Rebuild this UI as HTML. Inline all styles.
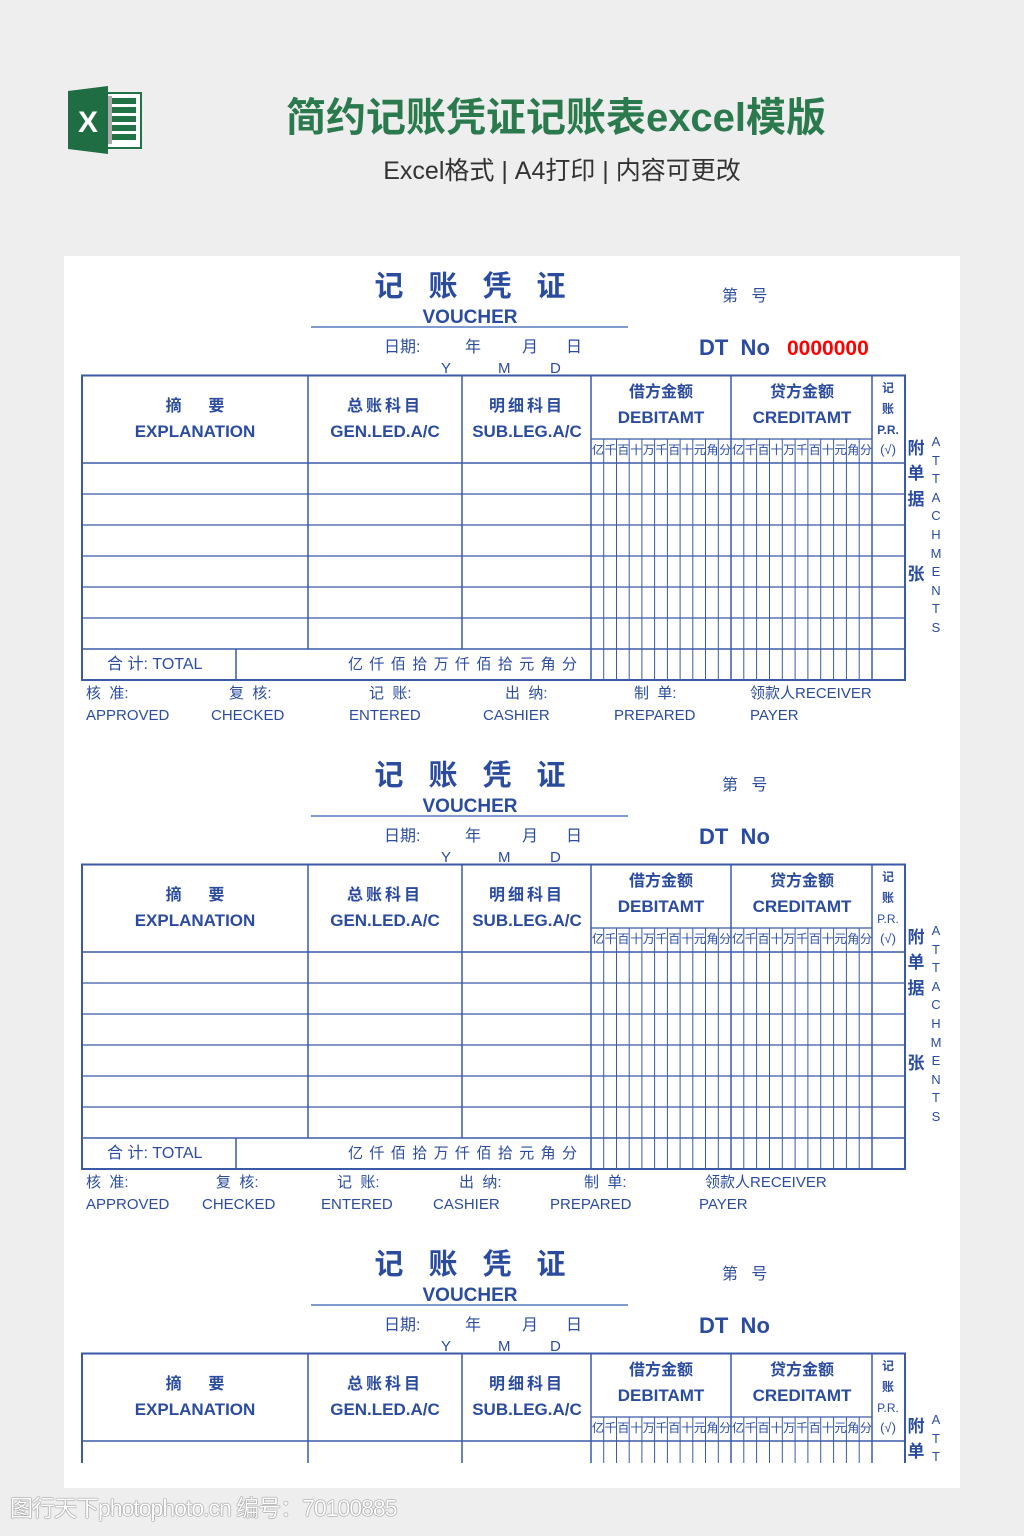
<!DOCTYPE html>
<html><head><meta charset="utf-8">
<style>
*{margin:0;padding:0;box-sizing:border-box}
html,body{width:1024px;height:1536px;overflow:hidden}
body{background:#eeeeee;position:relative;font-family:"Liberation Sans","Noto Sans CJK SC",sans-serif}
.t{position:absolute;white-space:nowrap;color:#2b4c9e;line-height:1;font-family:"Liberation Sans","Noto Sans CJK SC",sans-serif}
.c{transform:translateX(-50%)}
.b{font-weight:bold}
.v{position:absolute;left:0;width:1024px;overflow:hidden}
.dg{position:absolute;display:flex;font-size:12px;color:#2b4c9e;line-height:1;font-family:"Liberation Sans","Noto Sans CJK SC",sans-serif}
.dg span{flex:1;text-align:center;letter-spacing:-1px}
.ttl{font-size:29px;letter-spacing:25px;padding-left:25px}
</style></head><body>

<svg style="position:absolute;left:0;top:0" width="200" height="200">
<rect x="106" y="93" width="35" height="55" fill="#fff" stroke="#217346" stroke-width="2"/>
<g fill="#217346"><rect x="112" y="98" width="24" height="6"/><rect x="112" y="107" width="24" height="6"/><rect x="112" y="116" width="24" height="6"/><rect x="112" y="125" width="24" height="6"/><rect x="112" y="134" width="24" height="6"/></g>
<rect x="106" y="96" width="6" height="48" fill="#aaa"/>
<polygon points="68,91 108,86 108,154 68,149" fill="#1f6e43"/>
<text x="88" y="132" fill="#fff" font-family="Liberation Sans" font-weight="bold" font-size="30" text-anchor="middle">X</text>
</svg>

<div class="t b c" style="left:556px;top:98px;font-size:40px;color:#2a7a4e">简约记账凭证记账表excel模版</div>
<div class="t c" style="left:562px;top:159px;font-size:25px;color:#333">Excel格式 | A4打印 | 内容可更改</div>

<div style="position:absolute;left:64px;top:256px;width:896px;height:1232px;background:#fff"></div>

<!-- VOUCHER 1 -->
<div class="v" style="top:0;height:740px">
<svg style="position:absolute;left:0;top:0" width="1024" height="740">
<g stroke="#3a5aa8" fill="none">
<line x1="311" y1="327" x2="628" y2="327" stroke="#7f9bd0" stroke-width="2"/>
<rect x="82" y="375.5" width="823" height="304.5" stroke-width="2"/>
<line x1="308" y1="375" x2="308" y2="649" stroke-width="1.5"/>
<line x1="462" y1="375" x2="462" y2="649" stroke-width="1.5"/>
<line x1="591" y1="375" x2="591" y2="680" stroke-width="1.5"/>
<line x1="731" y1="375" x2="731" y2="680" stroke-width="1.5"/>
<line x1="872" y1="375" x2="872" y2="680" stroke-width="1.5"/>
<line x1="591" y1="439" x2="872" y2="439" stroke-width="1.2"/>
<line x1="82" y1="463" x2="905" y2="463" stroke-width="1.5"/>
<line x1="82" y1="494" x2="905" y2="494" stroke-width="1.2"/>
<line x1="82" y1="525" x2="905" y2="525" stroke-width="1.2"/>
<line x1="82" y1="556" x2="905" y2="556" stroke-width="1.2"/>
<line x1="82" y1="587" x2="905" y2="587" stroke-width="1.2"/>
<line x1="82" y1="618" x2="905" y2="618" stroke-width="1.2"/>
<line x1="82" y1="649" x2="905" y2="649" stroke-width="1.5"/>
<line x1="236" y1="649" x2="236" y2="680" stroke-width="1.5"/>
<path stroke-width="1" d="M603.7 439V680M616.5 439V680M629.2 439V680M641.9 439V680M654.6 439V680M667.4 439V680M680.1 439V680M692.8 439V680M705.5 439V680M718.3 439V680M743.8 439V680M756.6 439V680M769.5 439V680M782.3 439V680M795.1 439V680M807.9 439V680M820.7 439V680M833.6 439V680M846.4 439V680M859.2 439V680"/>
</g></svg>
<div class="t b c ttl" style="left:470px;top:273px">记账凭证</div>
<div class="t b c" style="left:470px;top:308px;font-size:19px">VOUCHER</div>
<div class="t" style="left:722px;top:289px;font-size:16px">第&nbsp;&nbsp;&nbsp;号</div>
<div class="t" style="left:384px;top:340px;font-size:16px">日期:</div>
<div class="t" style="left:465px;top:340px;font-size:16px">年</div>
<div class="t" style="left:522px;top:340px;font-size:16px">月</div>
<div class="t" style="left:566px;top:340px;font-size:16px">日</div>
<div class="t" style="left:441px;top:361px;font-size:15px">Y</div>
<div class="t" style="left:498px;top:361px;font-size:15px">M</div>
<div class="t" style="left:550px;top:361px;font-size:15px">D</div>
<div class="t b" style="left:699px;top:337px;font-size:22px">DT&nbsp;&nbsp;No</div>
<div class="t b" style="left:787px;top:338px;font-size:21px;color:#f00">0000000</div>
<div class="t b c" style="left:195px;top:399px;font-size:16px">摘&nbsp;&nbsp;&nbsp;&nbsp;&nbsp;&nbsp;要</div>
<div class="t b c" style="left:195px;top:423px;font-size:17px">EXPLANATION</div>
<div class="t b c" style="left:385px;top:399px;font-size:16px;letter-spacing:3px">总账科目</div>
<div class="t b c" style="left:385px;top:423px;font-size:17px">GEN.LED.A/C</div>
<div class="t b c" style="left:527px;top:399px;font-size:16px;letter-spacing:3px">明细科目</div>
<div class="t b c" style="left:527px;top:423px;font-size:17px">SUB.LEG.A/C</div>
<div class="t b c" style="left:661px;top:385px;font-size:16px">借方金额</div>
<div class="t b c" style="left:661px;top:409px;font-size:17px">DEBITAMT</div>
<div class="t b c" style="left:802px;top:385px;font-size:16px">贷方金额</div>
<div class="t b c" style="left:802px;top:409px;font-size:17px">CREDITAMT</div>
<div class="t b c" style="left:888px;top:382px;font-size:12px">记</div>
<div class="t b c" style="left:888px;top:403px;font-size:12px">账</div>
<div class="t b c" style="left:888px;top:424px;font-size:12px">P.R.</div>
<div class="t c" style="left:888px;top:443px;font-size:13px">(√)</div>
<div class="dg" style="left:591px;top:444px;width:140px"><span>亿</span><span>千</span><span>百</span><span>十</span><span>万</span><span>千</span><span>百</span><span>十</span><span>元</span><span>角</span><span>分</span></div>
<div class="dg" style="left:731px;top:444px;width:141px"><span>亿</span><span>千</span><span>百</span><span>十</span><span>万</span><span>千</span><span>百</span><span>十</span><span>元</span><span>角</span><span>分</span></div>
<div class="t b c" style="left:916px;top:440px;font-size:17px">附</div>
<div class="t b c" style="left:916px;top:465px;font-size:17px">单</div>
<div class="t b c" style="left:916px;top:491px;font-size:17px">据</div>
<div class="t b c" style="left:916px;top:566px;font-size:17px">张</div>
<div class="t c" style="left:936px;top:433px;font-size:13px;line-height:18.6px;white-space:normal;width:12px;text-align:center">A T T A C H M E N T S</div>
<div class="t" style="left:107px;top:657px;font-size:16px">合&nbsp;计:&nbsp;TOTAL</div>
<div class="t" style="left:348px;top:657px;font-size:15px;letter-spacing:6.4px">亿仟佰拾万仟佰拾元角分</div>
<div class="t" style="left:86px;top:686px;font-size:15px">核&nbsp;&nbsp;准:</div>
<div class="t" style="left:229px;top:686px;font-size:15px">复&nbsp;&nbsp;核:</div>
<div class="t" style="left:369px;top:686px;font-size:15px">记&nbsp;&nbsp;账:</div>
<div class="t" style="left:505px;top:686px;font-size:15px">出&nbsp;&nbsp;纳:</div>
<div class="t" style="left:634px;top:686px;font-size:15px">制&nbsp;&nbsp;单:</div>
<div class="t" style="left:750px;top:686px;font-size:15px">领款人RECEIVER</div>
<div class="t" style="left:86px;top:708px;font-size:15px">APPROVED</div>
<div class="t" style="left:211px;top:708px;font-size:15px">CHECKED</div>
<div class="t" style="left:349px;top:708px;font-size:15px">ENTERED</div>
<div class="t" style="left:483px;top:708px;font-size:15px">CASHIER</div>
<div class="t" style="left:614px;top:708px;font-size:15px">PREPARED</div>
<div class="t" style="left:750px;top:708px;font-size:15px">PAYER</div>
</div>

<!-- VOUCHER 2 -->
<div class="v" style="top:489px;height:740px">
<svg style="position:absolute;left:0;top:0" width="1024" height="740">
<g stroke="#3a5aa8" fill="none">
<line x1="311" y1="327" x2="628" y2="327" stroke="#7f9bd0" stroke-width="2"/>
<rect x="82" y="375.5" width="823" height="304.5" stroke-width="2"/>
<line x1="308" y1="375" x2="308" y2="649" stroke-width="1.5"/>
<line x1="462" y1="375" x2="462" y2="649" stroke-width="1.5"/>
<line x1="591" y1="375" x2="591" y2="680" stroke-width="1.5"/>
<line x1="731" y1="375" x2="731" y2="680" stroke-width="1.5"/>
<line x1="872" y1="375" x2="872" y2="680" stroke-width="1.5"/>
<line x1="591" y1="439" x2="872" y2="439" stroke-width="1.2"/>
<line x1="82" y1="463" x2="905" y2="463" stroke-width="1.5"/>
<line x1="82" y1="494" x2="905" y2="494" stroke-width="1.2"/>
<line x1="82" y1="525" x2="905" y2="525" stroke-width="1.2"/>
<line x1="82" y1="556" x2="905" y2="556" stroke-width="1.2"/>
<line x1="82" y1="587" x2="905" y2="587" stroke-width="1.2"/>
<line x1="82" y1="618" x2="905" y2="618" stroke-width="1.2"/>
<line x1="82" y1="649" x2="905" y2="649" stroke-width="1.5"/>
<line x1="236" y1="649" x2="236" y2="680" stroke-width="1.5"/>
<path stroke-width="1" d="M603.7 439V680M616.5 439V680M629.2 439V680M641.9 439V680M654.6 439V680M667.4 439V680M680.1 439V680M692.8 439V680M705.5 439V680M718.3 439V680M743.8 439V680M756.6 439V680M769.5 439V680M782.3 439V680M795.1 439V680M807.9 439V680M820.7 439V680M833.6 439V680M846.4 439V680M859.2 439V680"/>
</g></svg>
<div class="t b c ttl" style="left:470px;top:273px">记账凭证</div>
<div class="t b c" style="left:470px;top:308px;font-size:19px">VOUCHER</div>
<div class="t" style="left:722px;top:289px;font-size:16px">第&nbsp;&nbsp;&nbsp;号</div>
<div class="t" style="left:384px;top:340px;font-size:16px">日期:</div>
<div class="t" style="left:465px;top:340px;font-size:16px">年</div>
<div class="t" style="left:522px;top:340px;font-size:16px">月</div>
<div class="t" style="left:566px;top:340px;font-size:16px">日</div>
<div class="t" style="left:441px;top:361px;font-size:15px">Y</div>
<div class="t" style="left:498px;top:361px;font-size:15px">M</div>
<div class="t" style="left:550px;top:361px;font-size:15px">D</div>
<div class="t b" style="left:699px;top:337px;font-size:22px">DT&nbsp;&nbsp;No</div>
<div class="t b c" style="left:195px;top:399px;font-size:16px">摘&nbsp;&nbsp;&nbsp;&nbsp;&nbsp;&nbsp;要</div>
<div class="t b c" style="left:195px;top:423px;font-size:17px">EXPLANATION</div>
<div class="t b c" style="left:385px;top:399px;font-size:16px;letter-spacing:3px">总账科目</div>
<div class="t b c" style="left:385px;top:423px;font-size:17px">GEN.LED.A/C</div>
<div class="t b c" style="left:527px;top:399px;font-size:16px;letter-spacing:3px">明细科目</div>
<div class="t b c" style="left:527px;top:423px;font-size:17px">SUB.LEG.A/C</div>
<div class="t b c" style="left:661px;top:385px;font-size:16px">借方金额</div>
<div class="t b c" style="left:661px;top:409px;font-size:17px">DEBITAMT</div>
<div class="t b c" style="left:802px;top:385px;font-size:16px">贷方金额</div>
<div class="t b c" style="left:802px;top:409px;font-size:17px">CREDITAMT</div>
<div class="t b c" style="left:888px;top:382px;font-size:12px">记</div>
<div class="t b c" style="left:888px;top:403px;font-size:12px">账</div>
<div class="t c" style="left:888px;top:424px;font-size:12px">P.R.</div>
<div class="t c" style="left:888px;top:443px;font-size:13px">(√)</div>
<div class="dg" style="left:591px;top:444px;width:140px"><span>亿</span><span>千</span><span>百</span><span>十</span><span>万</span><span>千</span><span>百</span><span>十</span><span>元</span><span>角</span><span>分</span></div>
<div class="dg" style="left:731px;top:444px;width:141px"><span>亿</span><span>千</span><span>百</span><span>十</span><span>万</span><span>千</span><span>百</span><span>十</span><span>元</span><span>角</span><span>分</span></div>
<div class="t b c" style="left:916px;top:440px;font-size:17px">附</div>
<div class="t b c" style="left:916px;top:465px;font-size:17px">单</div>
<div class="t b c" style="left:916px;top:491px;font-size:17px">据</div>
<div class="t b c" style="left:916px;top:566px;font-size:17px">张</div>
<div class="t c" style="left:936px;top:433px;font-size:13px;line-height:18.6px;white-space:normal;width:12px;text-align:center">A T T A C H M E N T S</div>
<div class="t" style="left:107px;top:657px;font-size:16px">合&nbsp;计:&nbsp;TOTAL</div>
<div class="t" style="left:348px;top:657px;font-size:15px;letter-spacing:6.4px">亿仟佰拾万仟佰拾元角分</div>
<div class="t" style="left:86px;top:686px;font-size:15px">核&nbsp;&nbsp;准:</div>
<div class="t" style="left:216px;top:686px;font-size:15px">复&nbsp;&nbsp;核:</div>
<div class="t" style="left:337px;top:686px;font-size:15px">记&nbsp;&nbsp;账:</div>
<div class="t" style="left:459px;top:686px;font-size:15px">出&nbsp;&nbsp;纳:</div>
<div class="t" style="left:584px;top:686px;font-size:15px">制&nbsp;&nbsp;单:</div>
<div class="t" style="left:705px;top:686px;font-size:15px">领款人RECEIVER</div>
<div class="t" style="left:86px;top:708px;font-size:15px">APPROVED</div>
<div class="t" style="left:202px;top:708px;font-size:15px">CHECKED</div>
<div class="t" style="left:321px;top:708px;font-size:15px">ENTERED</div>
<div class="t" style="left:433px;top:708px;font-size:15px">CASHIER</div>
<div class="t" style="left:550px;top:708px;font-size:15px">PREPARED</div>
<div class="t" style="left:699px;top:708px;font-size:15px">PAYER</div>
</div>

<!-- VOUCHER 3 (clipped) -->
<div class="v" style="top:978px;height:485px">
<svg style="position:absolute;left:0;top:0" width="1024" height="740">
<g stroke="#3a5aa8" fill="none">
<line x1="311" y1="327" x2="628" y2="327" stroke="#7f9bd0" stroke-width="2"/>
<rect x="82" y="375.5" width="823" height="304.5" stroke-width="2"/>
<line x1="308" y1="375" x2="308" y2="649" stroke-width="1.5"/>
<line x1="462" y1="375" x2="462" y2="649" stroke-width="1.5"/>
<line x1="591" y1="375" x2="591" y2="680" stroke-width="1.5"/>
<line x1="731" y1="375" x2="731" y2="680" stroke-width="1.5"/>
<line x1="872" y1="375" x2="872" y2="680" stroke-width="1.5"/>
<line x1="591" y1="439" x2="872" y2="439" stroke-width="1.2"/>
<line x1="82" y1="463" x2="905" y2="463" stroke-width="1.5"/>
<path stroke-width="1" d="M603.7 439V680M616.5 439V680M629.2 439V680M641.9 439V680M654.6 439V680M667.4 439V680M680.1 439V680M692.8 439V680M705.5 439V680M718.3 439V680M743.8 439V680M756.6 439V680M769.5 439V680M782.3 439V680M795.1 439V680M807.9 439V680M820.7 439V680M833.6 439V680M846.4 439V680M859.2 439V680"/>
</g></svg>
<div class="t b c ttl" style="left:470px;top:273px">记账凭证</div>
<div class="t b c" style="left:470px;top:308px;font-size:19px">VOUCHER</div>
<div class="t" style="left:722px;top:289px;font-size:16px">第&nbsp;&nbsp;&nbsp;号</div>
<div class="t" style="left:384px;top:340px;font-size:16px">日期:</div>
<div class="t" style="left:465px;top:340px;font-size:16px">年</div>
<div class="t" style="left:522px;top:340px;font-size:16px">月</div>
<div class="t" style="left:566px;top:340px;font-size:16px">日</div>
<div class="t" style="left:441px;top:361px;font-size:15px">Y</div>
<div class="t" style="left:498px;top:361px;font-size:15px">M</div>
<div class="t" style="left:550px;top:361px;font-size:15px">D</div>
<div class="t b" style="left:699px;top:337px;font-size:22px">DT&nbsp;&nbsp;No</div>
<div class="t b c" style="left:195px;top:399px;font-size:16px">摘&nbsp;&nbsp;&nbsp;&nbsp;&nbsp;&nbsp;要</div>
<div class="t b c" style="left:195px;top:423px;font-size:17px">EXPLANATION</div>
<div class="t b c" style="left:385px;top:399px;font-size:16px;letter-spacing:3px">总账科目</div>
<div class="t b c" style="left:385px;top:423px;font-size:17px">GEN.LED.A/C</div>
<div class="t b c" style="left:527px;top:399px;font-size:16px;letter-spacing:3px">明细科目</div>
<div class="t b c" style="left:527px;top:423px;font-size:17px">SUB.LEG.A/C</div>
<div class="t b c" style="left:661px;top:385px;font-size:16px">借方金额</div>
<div class="t b c" style="left:661px;top:409px;font-size:17px">DEBITAMT</div>
<div class="t b c" style="left:802px;top:385px;font-size:16px">贷方金额</div>
<div class="t b c" style="left:802px;top:409px;font-size:17px">CREDITAMT</div>
<div class="t b c" style="left:888px;top:382px;font-size:12px">记</div>
<div class="t b c" style="left:888px;top:403px;font-size:12px">账</div>
<div class="t c" style="left:888px;top:424px;font-size:12px">P.R.</div>
<div class="t c" style="left:888px;top:443px;font-size:13px">(√)</div>
<div class="dg" style="left:591px;top:444px;width:140px"><span>亿</span><span>千</span><span>百</span><span>十</span><span>万</span><span>千</span><span>百</span><span>十</span><span>元</span><span>角</span><span>分</span></div>
<div class="dg" style="left:731px;top:444px;width:141px"><span>亿</span><span>千</span><span>百</span><span>十</span><span>万</span><span>千</span><span>百</span><span>十</span><span>元</span><span>角</span><span>分</span></div>
<div class="t b c" style="left:916px;top:440px;font-size:17px">附</div>
<div class="t b c" style="left:916px;top:465px;font-size:17px">单</div>
<div class="t c" style="left:936px;top:433px;font-size:13px;line-height:18.6px;white-space:normal;width:12px;text-align:center">A T T A C H M E N T S</div>
</div>

<div class="t" style="left:10px;top:1497px;font-size:23px;color:#fff;text-shadow:0 0 1px #777,0 0 1px #777,0 0 1px #777;letter-spacing:-1px">图行天下photophoto.cn 编号：70100885</div>
</body></html>
